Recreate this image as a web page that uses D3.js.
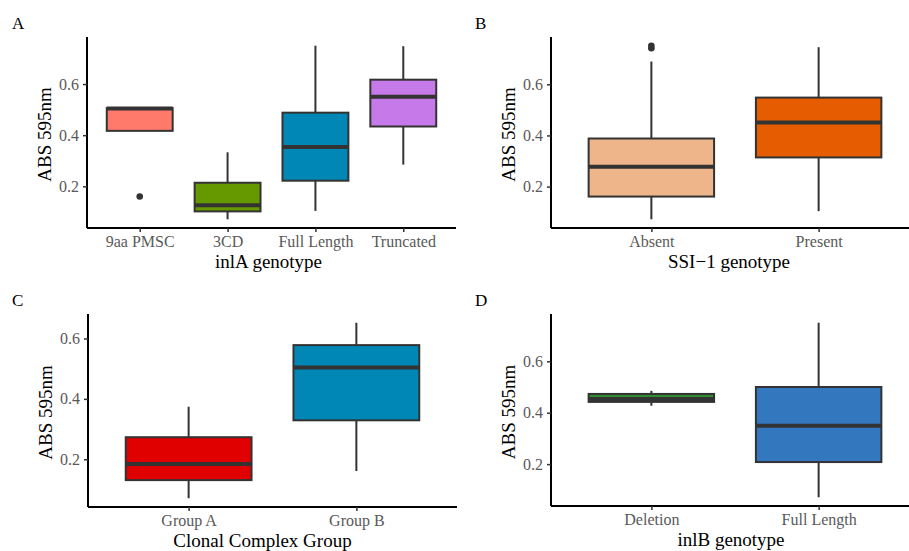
<!DOCTYPE html>
<html>
<head>
<meta charset="utf-8">
<script src="https://cdn.jsdelivr.net/npm/d3@7"></script>
<style>
  html, body { margin: 0; padding: 0; background: #fff; }
  svg { display: block; }
  text { font-family: "Liberation Serif", "DejaVu Serif", serif; }
</style>
</head>
<body>
<svg id="chart" width="909" height="551"></svg>
<script>
// ---------- Data ----------
// Panel A: inlA genotype
const catsA    = ["9aa PMSC", "3CD", "Full Length", "Truncated"];
const lowerA   = [0.417, 0.071, 0.104, 0.285];
const q1A      = [0.417, 0.102, 0.222, 0.434];
const medianA  = [0.504, 0.126, 0.354, 0.550];
const q3A      = [0.506, 0.214, 0.488, 0.617];
const upperA   = [0.506, 0.333, 0.750, 0.748];
const outA     = [[0.160], [], [], []];
const fillA    = ["#FF7A6B", "#669900", "#0087B5", "#C679E8"];

// Panel B: SSI-1 genotype
const catsB    = ["Absent", "Present"];
const lowerB   = [0.072, 0.104];
const q1B      = [0.161, 0.314];
const medianB  = [0.278, 0.451];
const q3B      = [0.388, 0.548];
const upperB   = [0.689, 0.745];
const outB     = [[0.741, 0.751], []];
const fillB    = ["#EEB58B", "#E65C00"];

// Panel C: Clonal Complex Group
const catsC    = ["Group A", "Group B"];
const lowerC   = [0.071, 0.161];
const q1C      = [0.131, 0.329];
const medianC  = [0.184, 0.504];
const q3C      = [0.273, 0.578];
const upperC   = [0.374, 0.652];
const outC     = [[], []];
const fillC    = ["#E00000", "#0087B5"];

// Panel D: inlB genotype
const catsD    = ["Deletion", "Full Length"];
const lowerD   = [0.427, 0.071];
const q1D      = [0.442, 0.208];
const medianD  = [0.453, 0.349];
const q3D      = [0.473, 0.500];
const upperD   = [0.485, 0.750];
const outD     = [[], []];
const fillD    = ["#2E8B2E", "#3377BF"];

const yTicks = [0.2, 0.4, 0.6];
const yTitle = "ABS 595nm";

const panels = [
  { label: "A", xTitle: "inlA genotype", cats: catsA, lower: lowerA, q1: q1A, med: medianA, q3: q3A, upper: upperA, out: outA, fill: fillA,
    box: { left: 87, right: 456, top: 37, bottom: 228 }, labelPos: [12, 29], titleShift: -3 },
  { label: "B", xTitle: "SSI\u22121 genotype", cats: catsB, lower: lowerB, q1: q1B, med: medianB, q3: q3B, upper: upperB, out: outB, fill: fillB,
    box: { left: 551, right: 919, top: 37, bottom: 228 }, labelPos: [475, 29], titleShift: -6 },
  { label: "C", xTitle: "Clonal Complex Group", cats: catsC, lower: lowerC, q1: q1C, med: medianC, q3: q3C, upper: upperC, out: outC, fill: fillC,
    box: { left: 88, right: 457, top: 314, bottom: 507 }, labelPos: [12, 306], titleShift: -10 },
  { label: "D", xTitle: "inlB genotype", cats: catsD, lower: lowerD, q1: q1D, med: medianD, q3: q3D, upper: upperD, out: outD, fill: fillD,
    box: { left: 551, right: 919, top: 314, bottom: 506 }, labelPos: [475, 306], titleShift: -4 }
];

const svg = d3.select("#chart");
const ink = "#333333";

panels.forEach(p => {
  const g = svg.append("g");
  const b = p.box;

  // y domain: data extent expanded by 5% (ggplot default)
  const all = [].concat(p.lower, p.upper, ...p.out);
  const [mn, mx] = d3.extent(all);
  const pad = (mx - mn) * 0.05;
  const y = d3.scaleLinear().domain([mn - pad, mx + pad]).range([b.bottom, b.top]);
  const x = d3.scalePoint().domain(p.cats).range([b.left, b.right]).padding(0.6);
  const bw = x.step() * 0.75;

  // Panel letter
  g.append("text").attr("x", p.labelPos[0]).attr("y", p.labelPos[1])
    .attr("font-size", 17).attr("fill", "#000").text(p.label);

  // Boxes
  p.cats.forEach((c, i) => {
    const cx = x(c);
    // whiskers
    g.append("line").attr("x1", cx).attr("x2", cx)
      .attr("y1", y(p.upper[i])).attr("y2", y(p.q3[i]))
      .attr("stroke", ink).attr("stroke-width", 2);
    g.append("line").attr("x1", cx).attr("x2", cx)
      .attr("y1", y(p.q1[i])).attr("y2", y(p.lower[i]))
      .attr("stroke", ink).attr("stroke-width", 2);
    // box
    g.append("rect").attr("x", cx - bw / 2).attr("width", bw)
      .attr("y", y(p.q3[i])).attr("height", Math.max(0, y(p.q1[i]) - y(p.q3[i])))
      .attr("fill", p.fill[i]).attr("stroke", ink).attr("stroke-width", 2);
    // median
    g.append("line").attr("x1", cx - bw / 2).attr("x2", cx + bw / 2)
      .attr("y1", y(p.med[i])).attr("y2", y(p.med[i]))
      .attr("stroke", ink).attr("stroke-width", 4);
    // outliers
    p.out[i].forEach(v => {
      g.append("circle").attr("cx", cx).attr("cy", y(v)).attr("r", 3.3).attr("fill", ink);
    });
  });

  // Axes
  const yAxis = d3.axisLeft(y).tickValues(yTicks).tickFormat(d3.format(".1f")).tickSize(4).tickPadding(4);
  const ya = g.append("g").attr("transform", `translate(${b.left},0)`).call(yAxis);
  ya.select(".domain").attr("d", `M0,${b.bottom}V${b.top}`).attr("stroke", "#000").attr("stroke-width", 2);
  ya.selectAll(".tick line").attr("stroke", ink).attr("stroke-width", 1.5);
  ya.selectAll(".tick text").attr("font-size", 16).attr("fill", "#595959")
    .attr("font-family", "Liberation Serif, serif");

  const xAxis = d3.axisBottom(x).tickSize(4).tickPadding(4);
  const xa = g.append("g").attr("transform", `translate(0,${b.bottom})`).call(xAxis);
  xa.select(".domain").attr("d", `M${b.left},0H${b.right}`).attr("stroke", "#000").attr("stroke-width", 2);
  xa.selectAll(".tick line").attr("stroke", ink).attr("stroke-width", 1.5);
  xa.selectAll(".tick text").attr("font-size", 16).attr("fill", "#595959")
    .attr("font-family", "Liberation Serif, serif");

  // Titles
  g.append("text")
    .attr("x", (b.left + b.right) / 2 + p.titleShift)
    .attr("y", b.bottom + 40).attr("text-anchor", "middle")
    .attr("font-size", 19).attr("fill", "#000").text(p.xTitle);
  g.append("text")
    .attr("transform", `translate(${b.left - 36},${(b.top + b.bottom) / 2 + 2}) rotate(-90)`)
    .attr("text-anchor", "middle").attr("font-size", 19).attr("fill", "#000").text(yTitle);
});
</script>
</body>
</html>
